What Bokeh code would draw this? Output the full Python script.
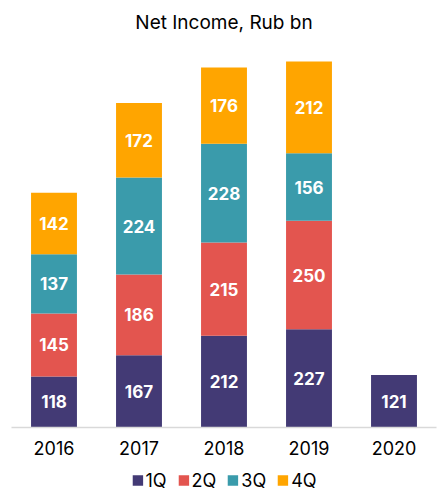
from bokeh.plotting import figure
from bokeh.layouts import column
from bokeh.models import Range1d, Legend, LegendItem, ColumnDataSource
from bokeh.core.properties import value
from bokeh.embed import file_html
from bokeh.resources import INLINE

years = ["2016", "2017", "2018", "2019", "2020"]
q1 = [118, 167, 212, 227, 121]
q2 = [145, 186, 215, 250, 0]
q3 = [137, 224, 228, 156, 0]
q4 = [142, 172, 176, 212, 0]
quarters = ["1Q", "2Q", "3Q", "4Q"]
colors = ["#433A75", "#E3554F", "#3A9BAB", "#FFA500"]

FONT = "Inter"

p = figure(x_range=years, y_range=Range1d(0, 891), width=446, height=465,
           output_backend="svg", toolbar_location=None,
           min_border_left=11, min_border_right=10, min_border_top=40, min_border_bottom=38)
p.outline_line_color = None
p.xgrid.visible = False
p.ygrid.visible = False
p.yaxis.visible = False

src = ColumnDataSource(dict(years=years, **{"1Q": q1, "2Q": q2, "3Q": q3, "4Q": q4}))
rs = p.vbar_stack(quarters, x="years", width=0.54, color=colors, source=src, line_color=None)

series = [q1, q2, q3, q4]
lx, ly, lt = [], [], []
for i, y in enumerate(years):
    base = 0
    for s in series:
        v = s[i]
        if v > 0:
            lx.append(y)
            ly.append(base + v / 2)
            lt.append(str(v))
        base += v
p.text(x=lx, y=ly, text=lt, text_color="white", text_font=value(FONT),
       text_font_size="17px", text_font_style="bold",
       text_align="center", text_baseline="middle")

ax = p.xaxis[0]
ax.axis_line_color = "#D9D9D9"
ax.axis_line_width = 1.5
ax.major_tick_line_color = None
ax.minor_tick_line_color = None
ax.major_label_text_font = FONT
ax.major_label_text_font_size = "18px"
ax.major_label_text_color = "black"
ax.major_label_standoff = 7

p.title.text = "Net Income, Rub bn"
p.title.align = "center"
p.title.text_font = FONT
p.title.text_font_size = "19px"
p.title.text_font_style = "normal"
p.title.text_color = "black"
p.title.standoff = 16

lg = figure(width=446, height=30, output_backend="svg", toolbar_location=None,
            x_range=Range1d(0, 1), y_range=Range1d(0, 1), min_border=0)
lg.axis.visible = False
lg.grid.visible = False
lg.outline_line_color = None
lrs = [lg.quad(left=[-10], right=[-9], top=[-10], bottom=[-11], color=c, line_color=None)
       for c in colors]
legend = Legend(items=[LegendItem(label=q, renderers=[r]) for q, r in zip(quarters, lrs)],
                orientation="horizontal", location="center",
                label_text_font=FONT, label_text_font_size="18px", label_text_color="black",
                glyph_width=13, glyph_height=13, spacing=10, label_standoff=2,
                border_line_color=None, background_fill_alpha=0, padding=0, margin=0)
lg.add_layout(legend)

open("out.html", "w").write(file_html(column(p, lg, spacing=0), INLINE))
